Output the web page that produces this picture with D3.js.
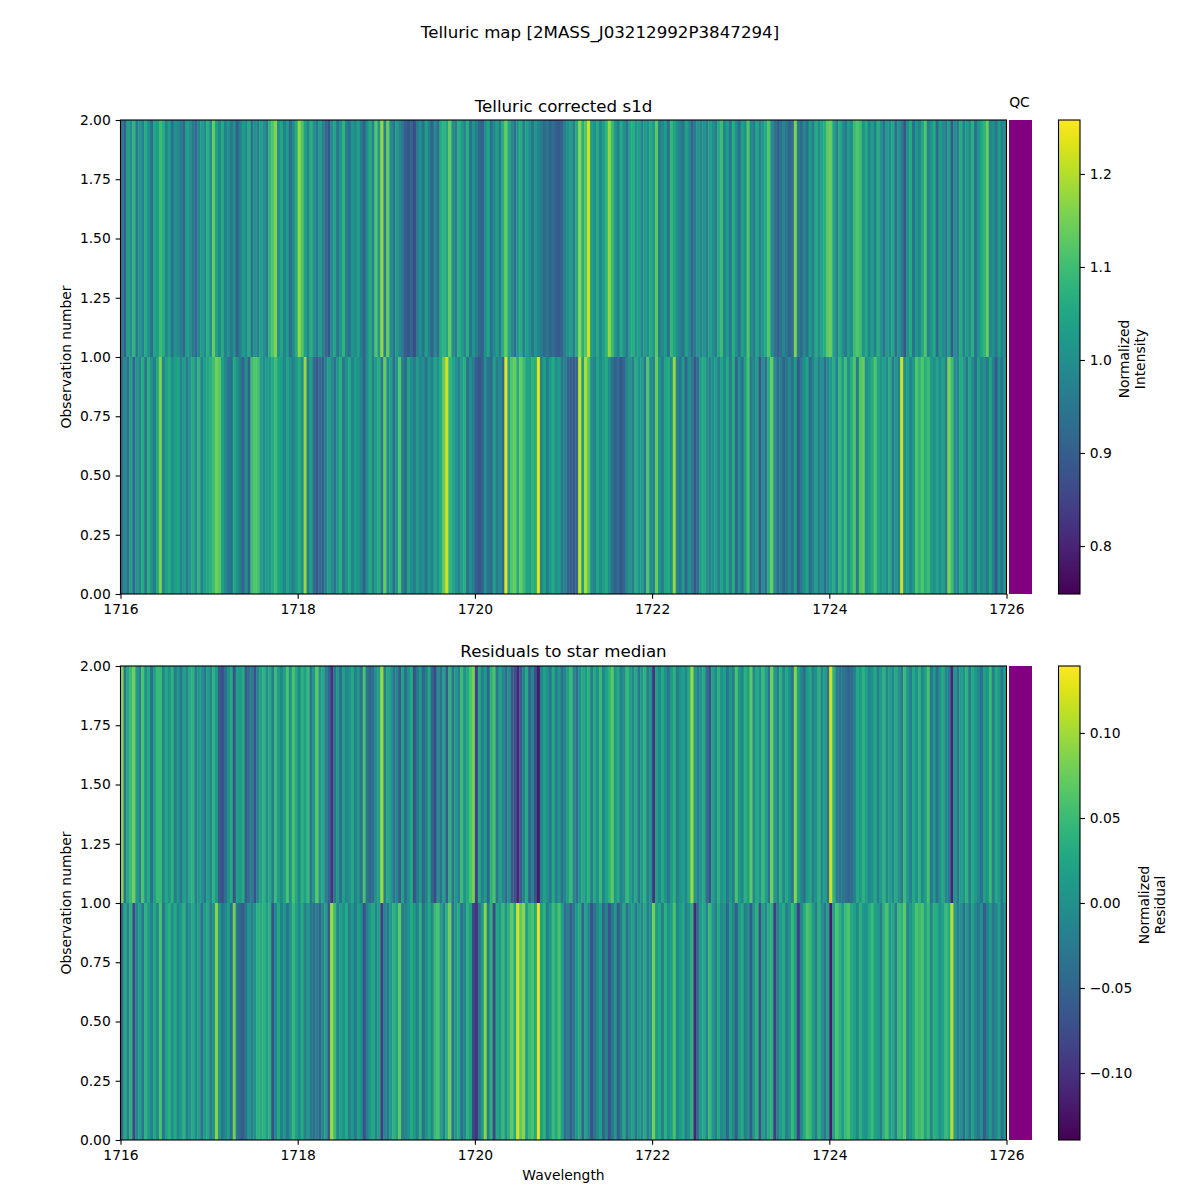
<!DOCTYPE html>
<html><head><meta charset="utf-8">
<script src="https://cdn.jsdelivr.net/npm/d3@7/dist/d3.min.js"></script>
<style>
html,body{margin:0;padding:0;background:#fff}
svg{display:block}
text{font-family:"DejaVu Sans",sans-serif;fill:#000}
.tick text{font-size:13.89px;font-family:"DejaVu Sans",sans-serif}
.tick line,.domain{stroke:#000;stroke-width:1.1px}
</style></head><body><div id="chart"></div>
<script>
// Values in percent of continuum: telluric corrected, observation 1 (row 1-2) and observation 0 (row 0-1)
const intensityObs1 = [
96,90,104,99,108,95,102,97,106,100,93,105,103,110,107,98,104,94,101,99,
96,92,104,100,95,92,98,103,99,107,100,114,104,98,106,97,102,95,100,90,
97,103,99,106,94,101,97,104,100,95,108,112,116,100,105,97,103,92,99,106,
118,112,104,98,107,100,95,103,97,92,88,99,105,94,101,108,97,93,102,99,
104,96,91,100,106,98,112,102,118,97,114,100,94,103,98,95,90,88,92,86,
96,100,94,104,97,90,99,93,106,108,105,114,100,96,107,103,98,107,94,101,
97,92,90,100,105,94,99,103,96,107,114,105,99,93,102,106,97,104,100,95,
102,98,96,92,95,91,93,90,89,91,97,100,103,96,106,117,107,112,122,104,
100,106,98,104,108,118,110,102,97,106,100,95,105,107,101,104,98,103,100,106,
102,113,96,99,103,93,109,105,100,97,94,104,99,91,96,102,98,101,97,104,
100,96,106,110,98,103,95,107,100,94,104,101,112,99,96,105,97,102,106,112,
100,94,90,93,98,95,91,93,116,96,92,99,94,103,97,106,100,105,107,113,
114,104,97,106,100,95,103,99,110,112,110,101,106,98,104,97,107,101,94,103,
99,105,93,101,96,88,100,106,94,102,98,105,112,97,101,106,92,103,99,96,
104,89,100,96,106,97,103,99,107,94,101,105,108,114,98,100,95,103,97,100];
const intensityObs0 = [
92,99,93,104,91,102,97,106,95,107,101,96,106,116,98,104,107,100,103,105,
98,104,95,102,106,99,108,97,103,105,107,110,115,113,104,99,95,93,106,101,
96,91,100,90,110,112,111,104,99,103,102,106,110,105,103,98,105,100,97,102,
107,100,118,96,104,92,88,93,90,97,104,99,94,102,107,95,100,106,97,103,
101,98,90,100,106,97,103,107,95,114,99,104,93,101,112,97,92,105,100,96,
103,98,100,94,102,97,105,100,106,114,122,108,105,101,97,103,107,94,100,96,
90,88,91,100,94,92,104,96,99,92,124,105,112,114,106,114,110,105,104,108,
107,124,98,104,96,102,106,100,103,95,98,91,90,89,92,122,103,120,112,100,
97,105,99,103,106,100,94,90,93,88,92,98,102,96,106,101,104,95,112,100,
97,114,102,96,105,106,99,118,98,94,103,91,100,96,88,93,104,106,101,98,
100,103,97,105,99,106,96,107,91,101,94,104,111,96,98,103,88,100,94,106,
114,100,93,97,91,95,99,94,103,89,96,100,105,92,98,104,96,101,93,99,
102,106,97,109,103,110,100,107,112,96,112,114,100,103,106,112,105,101,104,99,
107,95,102,97,122,100,104,98,102,112,108,112,107,110,103,100,105,99,104,97,
116,110,100,98,106,103,95,105,99,93,104,98,101,95,105,97,89,100,94,103];
// Residuals to star median, in percent
const residualObs1 = [
9,-3,3,5,8,1,-2,6,0,3,-4,2,5,5,-1,3,0,4,-2,1,
-3,2,-1,3,4,-2,1,0,-3,2,-1,4,1,-6,-7,-4,0,3,-7,2,
1,3,-6,-4,-2,-7,-1,2,4,0,3,-2,5,1,-1,2,6,0,6,3,
-1,4,2,5,-3,1,7,0,3,-2,-5,-10,-3,1,-4,2,-1,0,3,-2,
1,-4,6,-3,-5,-4,0,2,10,-2,3,1,-3,-1,-6,2,-4,0,3,-7,
-3,1,-5,-2,3,-5,-8,0,-4,2,-6,4,-3,1,-2,5,0,3,6,8,
-9,3,-2,1,-5,4,6,-3,2,-1,-4,0,-6,-7,-11,-6,-2,3,-5,-1,
-7,-12,-1,2,0,-3,3,-2,1,-4,-1,2,5,-1,-4,0,3,1,4,-2,
3,0,5,-1,2,4,7,1,3,-2,0,5,2,-1,3,-3,1,4,-2,0,
-10,2,-1,3,0,-3,1,4,-2,0,2,-1,3,10,1,-2,0,3,-4,-7,
2,-1,4,0,2,-3,1,-2,6,1,-1,4,2,7,-1,3,0,5,2,-3,
8,1,-2,4,-1,3,0,-3,9,2,-1,-4,1,3,-2,0,4,-1,2,-3,
12,4,-2,-3,-3,-4,-5,-4,-2,3,1,4,2,-1,0,3,-2,1,4,-1,
2,-1,3,0,-3,5,1,-2,3,0,4,-1,2,6,-3,1,-4,0,3,-1,
-2,-11,1,-3,2,0,4,-2,3,1,-1,-4,2,0,5,-2,3,1,-3,2];
const residualObs0 = [
-5,3,-2,4,-8,-1,2,-3,4,1,-2,3,-1,6,-3,2,4,0,3,-1,
1,4,-2,0,3,-1,2,-4,1,3,-2,0,9,1,-3,-1,2,-4,8,-3,
-5,-6,-3,1,-2,0,4,3,4,2,4,-7,-1,3,-2,1,-3,0,5,2,
-1,3,-2,1,-3,-4,-2,-5,-1,2,-6,10,5,-1,2,0,3,-2,1,-3,
2,0,-7,-2,1,3,-1,2,-9,-1,-3,1,4,2,7,-2,-1,0,3,1,
-2,4,-4,0,3,-1,5,6,2,-2,4,8,-3,1,3,-4,-1,4,2,-8,
-10,-3,1,9,-2,4,-8,3,1,5,0,4,7,3,12,7,9,2,5,6,
3,13,2,4,-2,1,5,3,6,2,-4,-2,-6,-3,1,3,-5,2,-1,-7,
-3,-1,2,-5,-1,-7,-3,1,-6,-2,3,-4,0,2,-3,1,-1,3,-2,0,
8,1,3,-2,4,0,2,6,-1,1,3,-2,0,4,-11,-4,1,3,-1,5,
1,-2,3,-1,0,-5,2,-1,-6,1,3,-2,0,-6,1,4,-7,2,-1,3,
4,-9,-2,1,3,-2,0,5,2,-9,-1,3,6,5,1,-2,4,0,-3,2,
-12,2,6,4,1,5,6,3,2,-1,4,1,0,3,5,2,1,-2,4,6,
1,3,-2,5,4,7,-1,1,3,6,5,6,2,5,-1,4,3,0,2,5,
3,11,2,-2,0,-4,1,-3,2,-1,-3,0,-6,-2,1,-3,-1,2,-4,0];
const wavelengthDomain = [1716, 1726];
const observationDomain = [0, 2];
const xTickValues = [1716,1718,1720,1722,1724,1726];
const yTickValues = [0,0.25,0.5,0.75,1,1.25,1.5,1.75,2];
const intensityRange = [0.7484, 1.2580];
const residualRange = [-0.1394, 0.1394];
const intensityTicks = [0.8,0.9,1.0,1.1,1.2];
const residualTicks = [-0.10,-0.05,0,0.05,0.10];

const svg = d3.select("#chart").append("svg").attr("width",1200).attr("height",1200);
const L=120.5,R=1006.5,W=R-L;
const color = (dom)=>d3.scaleSequential(d3.interpolateViridis).domain(dom);

svg.append("text").attr("x",600).attr("y",38).attr("text-anchor","middle").style("font-size","16.67px").text("Telluric map [2MASS_J03212992P3847294]");
const defs = svg.append("defs");

function panel(top, title, titleY, obs1, obs0, scale, dom, ticks, fmt, cbLabel, cbLabelX, gradId, showX){
  const H=474;
  const x=d3.scaleLinear().domain(wavelengthDomain).range([L,R]);
  const y=d3.scaleLinear().domain(observationDomain).range([top+H,top]);
  const c=color(dom);
  const g=svg.append("g");
  [[obs0,0],[obs1,1]].forEach(([vals,row])=>{
    const n=vals.length, step=(wavelengthDomain[1]-wavelengthDomain[0])/n;
    g.append("g").selectAll("rect").data(vals).join("rect")
      .attr("x",(d,i)=>x(wavelengthDomain[0]+i*step))
      .attr("width",(d,i)=>x(wavelengthDomain[0]+(i+1)*step)-x(wavelengthDomain[0]+i*step)+0.4)
      .attr("y",y(row+1)).attr("height",y(row)-y(row+1))
      .attr("fill",d=>c(d*scale));
  });
  g.append("rect").attr("x",L).attr("y",top).attr("width",W).attr("height",H).attr("fill","none").attr("stroke","#000").attr("stroke-width",1.1);
  const ax=svg.append("g").attr("transform",`translate(0,${top+H})`)
    .call(d3.axisBottom(x).tickValues(xTickValues).tickFormat(d3.format("d")).tickSizeOuter(0).tickSize(4.86).tickPadding(4.86));
  ax.select(".domain").remove();
  const ay=svg.append("g").attr("transform",`translate(${L},0)`)
    .call(d3.axisLeft(y).tickValues(yTickValues).tickFormat(d3.format(".2f")).tickSizeOuter(0).tickSize(4.86).tickPadding(4.86));
  ay.select(".domain").remove();
  svg.append("text").attr("x",(L+R)/2).attr("y",titleY).attr("text-anchor","middle").style("font-size","16.67px").text(title);
  svg.append("text").attr("transform",`translate(71,${top+H/2}) rotate(-90)`).attr("text-anchor","middle").style("font-size","13.89px").text("Observation number");
  if(showX) svg.append("text").attr("x",(L+R)/2).attr("y",top+H+40).attr("text-anchor","middle").style("font-size","13.89px").text("Wavelength");
  // QC strip
  svg.append("rect").attr("x",1009).attr("y",top).attr("width",23).attr("height",H).attr("fill","#800080");
  // colorbar
  const grad=defs.append("linearGradient").attr("id",gradId).attr("x1",0).attr("x2",0).attr("y1",1).attr("y2",0);
  d3.range(0,1.0001,0.05).forEach(t=>grad.append("stop").attr("offset",t).attr("stop-color",d3.interpolateViridis(t)));
  svg.append("rect").attr("x",1058.5).attr("y",top).attr("width",21.5).attr("height",H).attr("fill",`url(#${gradId})`).attr("stroke","#000").attr("stroke-width",1.1);
  const cy=d3.scaleLinear().domain(dom).range([top+H,top]);
  const ac=svg.append("g").attr("transform","translate(1080,0)")
    .call(d3.axisRight(cy).tickValues(ticks).tickFormat(fmt).tickSizeOuter(0).tickSize(4.86).tickPadding(4.86));
  ac.select(".domain").remove();
  const lab=svg.append("text").attr("transform",`translate(${cbLabelX},${top+H/2+2}) rotate(-90)`).attr("text-anchor","middle").style("font-size","13.89px");
  cbLabel.forEach((t,i)=>lab.append("tspan").attr("x",0).attr("dy",i?"16.2":"0").text(t));
}
panel(120,"Telluric corrected s1d",112,intensityObs1,intensityObs0,0.01,intensityRange,intensityTicks,d3.format(".1f"),["Normalized","Intensity"],1129,"cb1",false);
panel(666,"Residuals to star median",657,residualObs1,residualObs0,0.01,residualRange,residualTicks,d3.format(".2f"),["Normalized","Residual"],1149,"cb2",true);
svg.append("text").attr("x",1019.5).attr("y",107).attr("text-anchor","middle").style("font-size","13.89px").text("QC");
</script></body></html>
